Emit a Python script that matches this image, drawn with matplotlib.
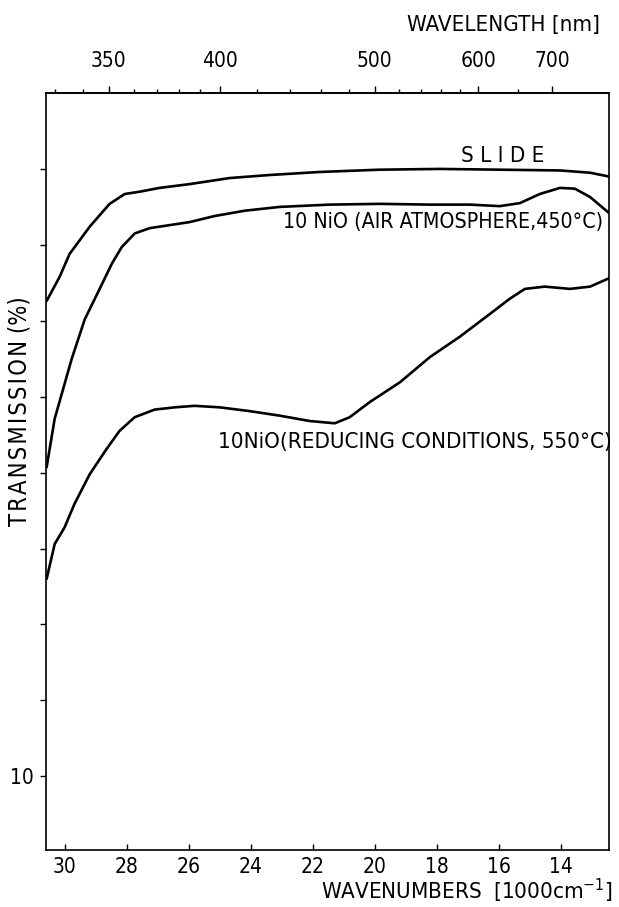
import numpy as np
import matplotlib
matplotlib.use("Agg")
import matplotlib.pyplot as plt
from matplotlib.ticker import FixedLocator, NullFormatter

plt.rcParams['font.family'] = ['DejaVu Sans']
plt.rcParams['font.stretch'] = 'condensed'

# ---- data (wavenumber in 1000 cm^-1, transmission in %) ----
slide_k = [30.58, 30.16, 29.84, 29.19, 28.55, 28.06, 27.58, 26.94, 25.97, 24.68,
           23.39, 21.77, 19.84, 17.90, 15.97, 14.03, 13.06, 12.45]
slide_t = [72.6, 75.8, 78.8, 82.4, 85.4, 86.7, 87.0, 87.5, 88.0, 88.8,
           89.2, 89.6, 89.9, 90.0, 89.9, 89.8, 89.5, 89.0]

air_k = [30.58, 30.32, 30.00, 29.77, 29.35, 28.87, 28.48, 28.16, 27.74, 27.26,
         26.61, 25.97, 25.16, 24.19, 23.06, 21.45, 19.84, 18.23, 16.94, 15.97,
         15.32, 14.68, 14.03, 13.55, 13.06, 12.45]
air_t = [50.7, 57.1, 61.7, 65.0, 70.2, 74.2, 77.5, 79.7, 81.5, 82.2,
         82.6, 83.0, 83.8, 84.5, 85.0, 85.3, 85.4, 85.3, 85.3, 85.1,
         85.5, 86.7, 87.5, 87.4, 86.3, 84.2]

red_k = [30.58, 30.32, 30.00, 29.68, 29.19, 28.65, 28.23, 27.74, 27.10, 26.45,
         25.81, 25.00, 24.03, 23.06, 22.10, 21.29, 20.81, 20.16, 19.19, 18.23,
         17.26, 16.29, 15.65, 15.16, 14.52, 13.71, 13.06, 12.45]
red_t = [36.0, 40.6, 42.8, 45.9, 49.8, 53.1, 55.5, 57.3, 58.3, 58.6,
         58.8, 58.6, 58.1, 57.5, 56.8, 56.5, 57.3, 59.3, 61.9, 65.2,
         67.9, 70.9, 72.9, 74.2, 74.5, 74.2, 74.5, 75.6]

wn_ticks = [30, 28, 26, 24, 22, 20, 18, 16, 14]
y_ticks = [10, 20, 30, 40, 50, 60, 70, 80, 90]
y_labels = ['10', '', '', '', '', '', '', '', '']
wl_major = [350, 400, 500, 600, 700]
wl_minor = [330, 340, 360, 370, 380, 390, 420, 440, 460, 480,
            520, 540, 560, 580, 650]

W, H = 619, 907
fig = plt.figure(figsize=(W / 100, H / 100), dpi=100)
ax = fig.add_axes([46 / W, 1 - 850 / H, (609 - 46) / W, (850 - 93) / H])

lw = 1.9
for k, t in [(slide_k, slide_t), (air_k, air_t), (red_k, red_t)]:
    ax.plot(k, t, color='black', lw=lw, solid_capstyle='round')

ax.set_xlim(30.6, 12.45)
ax.set_ylim(0.3, 100)

for s in ax.spines.values():
    s.set_linewidth(1.2)

FS = 15
ax.set_xticks(wn_ticks)
ax.set_xticklabels([str(v) for v in wn_ticks])
ax.tick_params(axis='x', direction='in', length=4, width=1, labelsize=FS, pad=5)
ax.set_yticks(y_ticks)
ax.set_yticklabels(y_labels)
ax.tick_params(axis='y', direction='out', length=4, width=1, labelsize=FS, pad=5)

ylab = '\u200a'.join('TRANSMISSION') + ' (%)'
ax.set_ylabel(ylab, fontsize=17)
ax.yaxis.set_label_coords(-0.025, 0.58)

fig.text(612 / W, 1 - 891 / H, 'WAVENUMBERS  [1000cm$^{-1}$]', ha='right', va='center', fontsize=16)

def fwd(k):
    k = np.asarray(k, dtype=float)
    with np.errstate(divide='ignore', invalid='ignore'):
        return 1e4 / k

sec = ax.secondary_xaxis('top', functions=(fwd, fwd))
sec.xaxis.set_major_locator(FixedLocator(wl_major))
sec.xaxis.set_minor_locator(FixedLocator(wl_minor))
sec.xaxis.set_minor_formatter(NullFormatter())
sec.set_xticklabels([str(v) for v in wl_major])
sec.tick_params(axis='x', which='major', direction='out', length=5, width=1, labelsize=FS, pad=11)
sec.tick_params(axis='x', which='minor', direction='out', length=3, width=1)
sec.spines['top'].set_linewidth(1.2)

fig.text(600 / W, 1 - 25 / H, 'WAVELENGTH [nm]', ha='right', va='center', fontsize=16)

ax.text(15.87, 91.7, 'S L I D E', fontsize=16, ha='center', va='center')
ax.text(22.97, 83.0, '10 NiO (AIR ATMOSPHERE,450°C)', fontsize=15.3, ha='left', va='center')
ax.text(25.06, 54.0, '10NiO(REDUCING CONDITIONS, 550°C)', fontsize=16, ha='left', va='center')

fig.savefig('out.png', dpi=100)
